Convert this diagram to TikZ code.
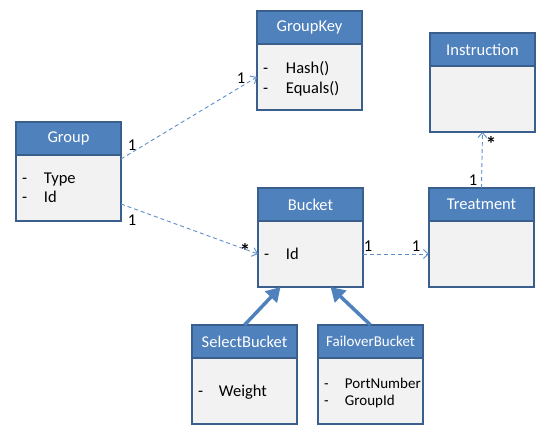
\documentclass[tikz,border=0pt]{standalone}
\usepackage{fontspec}
\setmainfont{Carlito}
\usetikzlibrary{arrows.meta}
\definecolor{headblue}{HTML}{4F81BD}
\definecolor{edgeblue}{HTML}{3A5F8D}
\definecolor{bodygrey}{HTML}{F2F2F2}
\definecolor{linkblue}{HTML}{5E8DC9}
\tikzset{
  head/.style={draw=edgeblue, fill=headblue, line width=1.6pt, text=white, minimum width=105pt, minimum height=33pt, inner sep=0pt, outer sep=0pt, anchor=north west, font=\fontsize{16.5}{20}\selectfont},
  body/.style={draw=edgeblue, fill=bodygrey, line width=1.6pt, minimum width=105pt, minimum height=66pt, text width=93pt, inner xsep=6pt, inner ysep=0pt, outer sep=0pt, align=left, anchor=north, font=\fontsize{16.5}{19.5}\selectfont},
  link/.style={draw=linkblue, dash pattern=on 4pt off 3pt, line width=0.9pt, -{Straight Barb[length=5pt,width=9pt]}},
  extends/.style={draw=headblue, line width=3.5pt, -{Triangle[length=14pt,width=16pt]}},
  mult/.style={font=\fontsize{16.5}{19}\selectfont, inner sep=0pt},
  star/.style={font=\fontsize{21}{21}\selectfont\bfseries, inner sep=0pt}
}
% extra room above the items pushes them down a little
\newcommand{\padtop}[2]{\raisebox{0pt}[\dimexpr\height+#1\relax]{#2}}
\begin{document}
\begin{tikzpicture}[x=1pt, y=-1pt]
    \useasboundingbox (0,0) rectangle (548,438);
    % Classes
    \node[head] (group) at (16,122) {Group};
    \node[body] (groupbody) at (group.south) {\padtop{2pt}{\begin{tabular}{@{}p{22pt}@{}l}- & Type\\ - & Id\end{tabular}}};
    \node[head] (groupkey) at (257,11) {GroupKey};
    \node[body] (groupkeybody) at (groupkey.south) {\padtop{5pt}{\begin{tabular}{@{}p{23pt}@{}l}- & Hash()\\ - & Equals()\end{tabular}}};
    \node[head] (instruction) at (430,33) {Instruction};
    \node[body] (instructionbody) at (instruction.south) {};
    \node[head] (bucket) at (258,188) {Bucket};
    \node[body] (bucketbody) at (bucket.south) {\padtop{4pt}{\begin{tabular}{@{}p{22pt}@{}l}- & Id\end{tabular}}};
    \node[head] (treatment) at (429,188) {Treatment};
    \node[body] (treatmentbody) at (treatment.south) {};
    \node[head] (select) at (192,325) {SelectBucket};
    \node[body] (selectbody) at (select.south) {\padtop{4pt}{\begin{tabular}{@{}p{21pt}@{}l}- & Weight\end{tabular}}};
    \node[head, font=\fontsize{15}{17}\selectfont] (failover) at (318,325) {FailoverBucket};
    \node[body, font=\fontsize{15}{17}\selectfont] (failoverbody) at (failover.south) {\padtop{5pt}{\begin{tabular}{@{}p{21pt}@{}l}- & PortNumber\\ - & GroupId\end{tabular}}};
    % Associations
    \draw[link] ([yshift=-4pt]groupbody.north east) -- (groupkeybody.west);
    \draw[link] ([yshift=-49pt]groupbody.north east) -- (bucketbody.west);
    \draw[link] (bucketbody.east) -- (treatmentbody.west);
    \draw[link] (treatment.north) -- (instructionbody.south);
    % Inheritance
    \draw[extends] (select.north) -- ([xshift=-30pt]bucketbody.south);
    \draw[extends] (failover.north) -- ([xshift=20pt]bucketbody.south);
    % Multiplicities
    \node[mult] (m1) at (132,145) {1};
    \node[mult] (m2) at (241,78) {1};
    \node[mult] (m3) at (132,220) {1};
    \node[star] (m4) at (245,251) {*};
    \node[mult] (m5) at (368,246) {1};
    \node[mult] (m6) at (416,246) {1};
    \node[mult] (m7) at (473,180) {1};
    \node[star] (m8) at (491,144) {*};
\end{tikzpicture}
\end{document}
